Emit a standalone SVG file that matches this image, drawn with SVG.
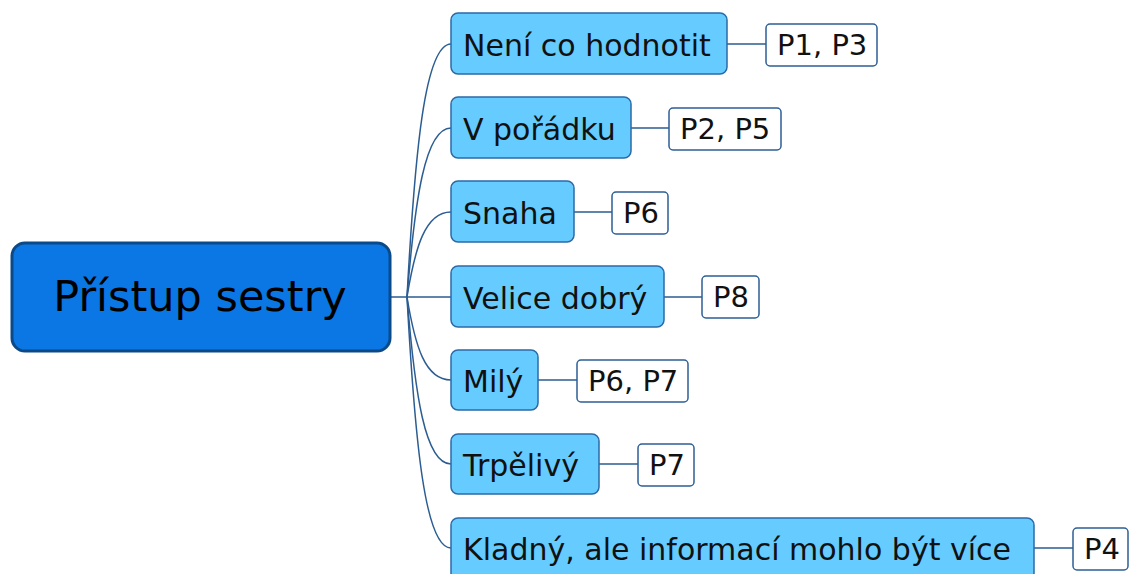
<svg xmlns="http://www.w3.org/2000/svg" width="1129" height="574" viewBox="0 0 1129 574">
  <style>
    .root rect { fill: #0a77e4; stroke: #0b4a88; stroke-width: 3; }
    .root text { font-family: "DejaVu Sans", Verdana, sans-serif; font-size: 43px; fill: #000; }
    .topic rect { fill: #66ccff; stroke: #2d6aa6; stroke-width: 1.5; }
    .topic text { font-family: "DejaVu Sans", Verdana, sans-serif; font-size: 30px; fill: #111; }
    .leaf rect { fill: #ffffff; stroke: #2d5f95; stroke-width: 1.5; }
    .leaf text { font-family: "DejaVu Sans", Verdana, sans-serif; font-size: 29px; fill: #111; }
    #connectors path { fill: none; stroke: #2b5d92; stroke-width: 1.5; }
  </style>

  <rect width="1129" height="574" fill="#ffffff"/>

  <!-- connectors: root to topics, topics to reference boxes -->
  <g id="connectors">
    <path d="M391 297 H451"/>
    <path d="M407 297 C415 150 425 44 451 44"/>
    <path d="M407 297 C415 199 425 128 451 128"/>
    <path d="M407 297 C415 248 425 212 451 212"/>
    <path d="M407 297 C415 346 425 380 451 380"/>
    <path d="M407 297 C415 395 425 464 451 464"/>
    <path d="M407 297 C415 443 425 548 451 548"/>
    <path d="M727 44 H766"/>
    <path d="M631 128 H669"/>
    <path d="M574 212 H612"/>
    <path d="M664 297 H702"/>
    <path d="M538 380 H577"/>
    <path d="M599 464 H638"/>
    <path d="M1034 548 H1073"/>
  </g>

  <g id="root" class="root">
    <rect x="12" y="243" width="378" height="108" rx="13"/>
    <text x="200" y="311" text-anchor="middle">Přístup sestry</text>
  </g>

  <g id="topic-neni" class="topic">
    <rect x="451" y="13" width="276" height="61" rx="7"/>
    <text x="463" y="56">Není co hodnotit</text>
  </g>
  <g id="topic-poradku" class="topic">
    <rect x="451" y="97" width="180" height="61" rx="7"/>
    <text x="463" y="140">V pořádku</text>
  </g>
  <g id="topic-snaha" class="topic">
    <rect x="451" y="181" width="123" height="61" rx="7"/>
    <text x="463" y="224">Snaha</text>
  </g>
  <g id="topic-velice" class="topic">
    <rect x="451" y="266" width="213" height="61" rx="7"/>
    <text x="463" y="309">Velice dobrý</text>
  </g>
  <g id="topic-mily" class="topic">
    <rect x="451" y="350" width="87" height="60" rx="7"/>
    <text x="463" y="392">Milý</text>
  </g>
  <g id="topic-trpelivy" class="topic">
    <rect x="451" y="434" width="148" height="60" rx="7"/>
    <text x="463" y="476">Trpělivý</text>
  </g>
  <g id="topic-kladny" class="topic">
    <rect x="451" y="518" width="583" height="62" rx="7"/>
    <text x="463" y="560">Kladný, ale informací mohlo být více</text>
  </g>

  <g id="leaf-p1p3" class="leaf">
    <rect x="766" y="24" width="111" height="42" rx="4"/>
    <text x="777" y="55">P1, P3</text>
  </g>
  <g id="leaf-p2p5" class="leaf">
    <rect x="669" y="108" width="112" height="42" rx="4"/>
    <text x="680" y="139">P2, P5</text>
  </g>
  <g id="leaf-p6a" class="leaf">
    <rect x="612" y="192" width="56" height="42" rx="4"/>
    <text x="623" y="223">P6</text>
  </g>
  <g id="leaf-p8" class="leaf">
    <rect x="702" y="276" width="57" height="42" rx="4"/>
    <text x="713" y="307">P8</text>
  </g>
  <g id="leaf-p6p7" class="leaf">
    <rect x="577" y="360" width="111" height="42" rx="4"/>
    <text x="588" y="391">P6, P7</text>
  </g>
  <g id="leaf-p7" class="leaf">
    <rect x="638" y="444" width="56" height="42" rx="4"/>
    <text x="649" y="475">P7</text>
  </g>
  <g id="leaf-p4" class="leaf">
    <rect x="1073" y="528" width="55" height="42" rx="4"/>
    <text x="1084" y="559">P4</text>
  </g>
</svg>
